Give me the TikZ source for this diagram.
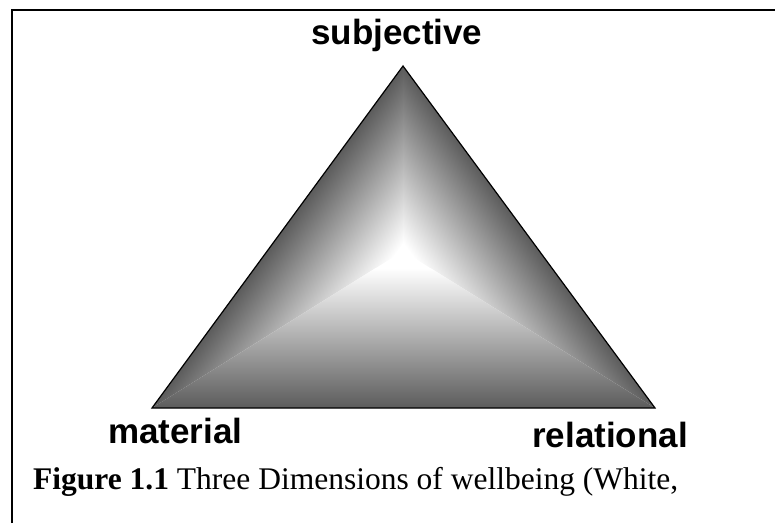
\documentclass[tikz,border=0pt]{standalone}
\usepackage{fontspec}
\setmainfont{Liberation Serif}
\newfontfamily\labelfont{Liberation Sans}
\usetikzlibrary{calc}

\begin{document}
\begin{tikzpicture}[x=1pt, y=1pt,
  corner/.style={font=\labelfont\bfseries\fontsize{35}{40}\selectfont, inner sep=0pt},
  caption/.style={font=\fontsize{31.5}{36}\selectfont, inner sep=0pt}]
  % Constants
  \def\edgeCol{black!64}
  \useasboundingbox (0,0) rectangle (775,523);

  % Frame (only left and top rules show)
  \draw[line width=2pt] (12,0) -- (12,513) -- (775,513);

  % Triangle corners and the bright centre
  \coordinate (top) at (403,457);
  \coordinate (bl) at (152,115);
  \coordinate (br) at (655,115);
  \coordinate (mid) at (403,272);

  % Shaded faces: (from/to/edge angle/edge length/depth of shade)
  \foreach \from/\to/\ang/\len/\dep in {bl/top/53.7/424.5/105, top/br/-53.6/424.5/105, br/bl/180/503/140} {
    \begin{scope}
      \clip (\from) -- (\to) -- (mid) -- cycle;
      \begin{scope}[transform canvas={shift={(\from)}, rotate=\ang}]
        \shade[top color=\edgeCol, bottom color=white] (-5,0) rectangle (\len+5,-\dep);
      \end{scope}
    \end{scope}
  }
  \draw[line width=1.2pt, line join=miter] (top) -- (br) -- (bl) -- cycle;

  % Labels
  \node[corner, anchor=base west] (subj) at (311,478) {subjective};
  \node[corner, anchor=base west] (mat) at (108,80) {material};
  \node[corner, anchor=base east] (rel) at (688,76) {relational};
  \node[caption, anchor=base west] (cap) at (33,34) {\textbf{Figure 1.1} Three Dimensions of wellbeing (White,};
\end{tikzpicture}
\end{document}
